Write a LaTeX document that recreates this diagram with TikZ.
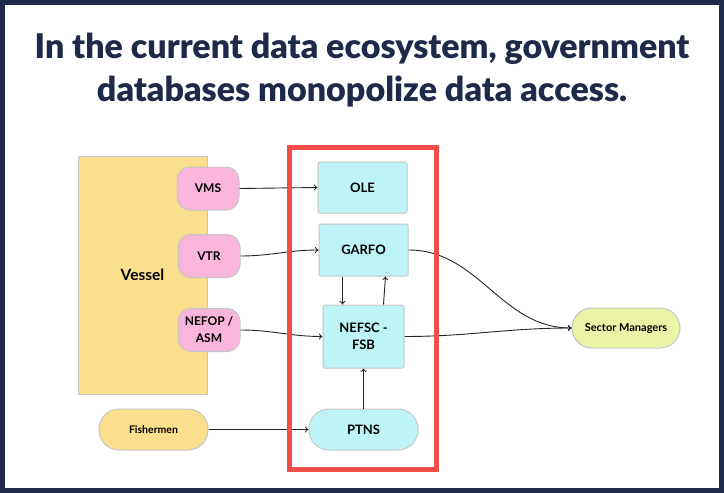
\documentclass[tikz,border=0pt]{standalone}
\usepackage{fontspec}
\setmainfont{Lato}
\newfontfamily\headfont{Lato Black}
\usepackage{tikz}
\usetikzlibrary{arrows.meta,positioning}
\definecolor{navyx}{HTML}{1F2A4B}
\definecolor{redx}{HTML}{F24E4A}
\definecolor{pinkx}{HTML}{F9B5DA}
\definecolor{cyanx}{HTML}{BEF4F5}
\definecolor{sandx}{HTML}{FCDF8E}
\definecolor{limex}{HTML}{EAF3A6}
\definecolor{edgex}{HTML}{C6C6C6}
\tikzset{
  ar/.style={-{To[length=3.5pt,width=6pt]},line width=0.9pt,black!85},
  tag/.style={draw=edgex,line width=1pt,fill=pinkx,rounded corners=13pt,minimum width=62pt,minimum height=43pt,align=center,inner sep=1pt,font=\bfseries\fontsize{12}{17}\selectfont},
  db/.style={draw=edgex,line width=1pt,fill=cyanx,rounded corners=1.5pt,align=center,inner sep=1pt,font=\bfseries\fontsize{13}{17}\selectfont},
  pill/.style={draw=edgex,line width=1pt,rounded corners=20pt,minimum width=109pt,minimum height=41pt,inner sep=1pt,font=\bfseries\fontsize{10.5}{12}\selectfont}
}

\begin{document}
\begin{tikzpicture}[x=1pt,y=-1pt]
\useasboundingbox (0,0) rectangle (724,493);
\fill[white] (0,0) rectangle (724,493);
\draw[navyx,line width=5pt] (2.5,2.5) rectangle (721.5,490.5);
\node[navyx,align=center,font=\headfont\fontsize{34}{43}\selectfont] (head) at (362,70)
  {In the current data ecosystem, government\\databases monopolize data access.};
% sources
\node[draw=edgex,line width=1pt,fill=sandx,minimum width=129pt,minimum height=238pt,font=\bfseries\fontsize{15.5}{18}\selectfont] (vessel) at (142.5,275) {Vessel};
\node[tag] (vms) at (208,188.5) {VMS};
\node[tag] (vtr) at (209,256) {VTR};
\node[tag] (nefop) at (209,330) {NEFOP /\\ASM};
\node[pill,fill=sandx] (fishermen) at (153.5,429.5) {Fishermen};
% government databases
\node[db,minimum width=89pt,minimum height=51pt] (ole) at (362.5,187.5) {OLE};
\node[db,minimum width=89pt,minimum height=52pt] (garfo) at (363.5,250) {GARFO};
\node[db,minimum width=81pt,minimum height=63pt] (nefsc) at (363.5,336.5) {NEFSC -\\FSB};
\node[pill,fill=cyanx,font=\bfseries\fontsize{13}{15}\selectfont] (ptns) at (363.5,429.5) {PTNS};
\node[pill,fill=limex,minimum width=108pt,minimum height=40pt,font=\bfseries\fontsize{11}{12}\selectfont] (sector) at (626,328) {Sector Managers};
% connectors
\draw[ar] (vms.east) -- (ole.west);
\draw[ar] (vtr.east) to[out=0,in=180] (garfo.west);
\draw[ar] (nefop.east) to[out=0,in=180] (nefsc.west);
\draw[ar] (fishermen.east) -- (ptns.west);
\draw[ar] ([xshift=-21pt]garfo.south) -- ([xshift=-21pt]nefsc.north);
\draw[ar] ([xshift=20pt]nefsc.north) -- ([xshift=22pt]garfo.south);
\draw[ar] (ptns.north) -- (nefsc.south);
\draw[ar] (garfo.east) to[out=0,in=180] (sector.west);
\draw[ar] (nefsc.east) to[out=0,in=180] (sector.west);
% monopoly frame
\draw[redx,line width=5pt] (289.5,147.5) rectangle (436.5,469.5);
\end{tikzpicture}
\end{document}
